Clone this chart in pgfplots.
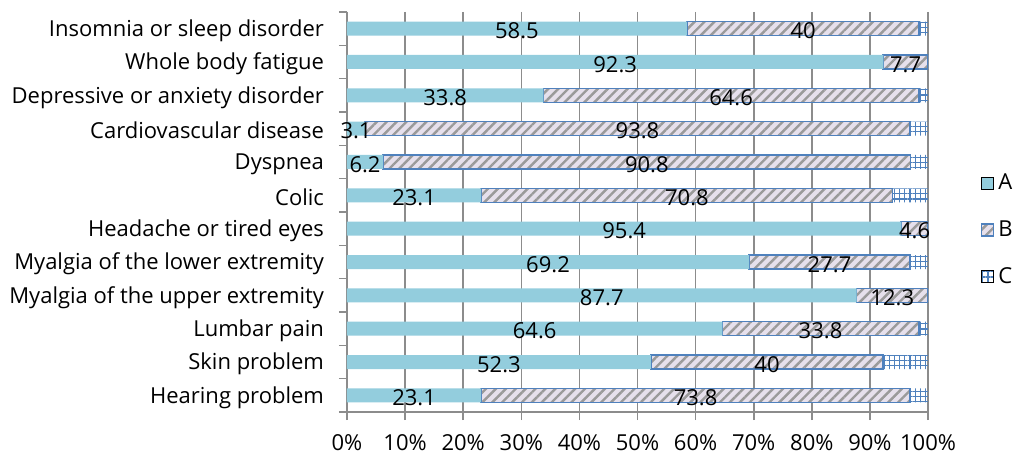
\documentclass[border=0pt]{standalone}
\usepackage{fontspec}
\setmainfont{Open Sans}
\usepackage{pgfplots}
\pgfplotsset{compat=1.18}
\usepackage{pgfplotstable}
\usetikzlibrary{patterns.meta}

\definecolor{barA}{HTML}{93CDDD}
\definecolor{barBfill}{HTML}{E6E0EC}
\definecolor{blueline}{HTML}{4F81BD}
\definecolor{hatchc}{HTML}{9A9A9A}
\definecolor{gridc}{HTML}{8C8C8C}

% A, B, C in percent; rows from top to bottom
\pgfplotstableread{
A B C
58.5 40 1.5
92.3 7.7 0
33.8 64.6 1.6
3.1 93.8 3.1
6.2 90.8 3.0
23.1 70.8 6.1
95.4 4.6 0
69.2 27.7 3.1
87.7 12.3 0
64.6 33.8 1.6
52.3 40 7.7
23.1 73.8 3.1
}\symptoms

\pgfplotsset{
  base/.style={
    scale only axis, width=290.5pt, height=200pt,
    xmin=0, xmax=100, ymin=-0.5, ymax=11.5, y dir=reverse,
  },
  sq legend/.style={legend image code/.code={\draw[##1] (0pt,-3pt) rectangle (6pt,3pt);}},
}

\begin{document}
\begin{tikzpicture}[font=\fontsize{11}{13}\selectfont]
\begin{axis}[base,
  xbar stacked, bar width=7pt,
  axis lines*=left, axis line style={gridc, line width=0.8pt},
  xtick={0,10,...,100}, xmajorgrids, grid style={gridc, line width=0.8pt},
  /pgf/number format/assume math mode=true,
  xticklabel={\pgfmathprintnumber{\tick}\%},
  xticklabel style={yshift=-3.5pt},
  ytick={-0.5,0.5,...,11.5}, yticklabels={},
  tick align=outside, major tick length=4pt,
  tick style={gridc, line width=0.8pt},
  extra y ticks={0,...,11},
  extra y tick labels={Insomnia or sleep disorder, Whole body fatigue,
    Depressive or anxiety disorder, Cardiovascular disease, Dyspnea, Colic,
    Headache or tired eyes, Myalgia of the lower extremity,
    Myalgia of the upper extremity, Lumbar pain, Skin problem, Hearing problem},
  extra y tick style={tick style={draw=none}, yticklabel style={xshift=-4pt, yshift=-1pt}},
  legend style={at={(1.08,0.455)}, anchor=west, draw=none, fill=none,
    row sep=10pt, legend cell align=left},
]
\addplot[fill=barA, draw=none, sq legend] table[x=A, y expr=\coordindex]{\symptoms};
\addplot[preaction={fill=barBfill}, pattern={Lines[angle=45,distance=3.5pt,line width=1.2pt]},
  pattern color=hatchc, draw=blueline, line width=0.8pt, sq legend]
  table[x=B, y expr=\coordindex]{\symptoms};
\addplot[pattern={Hatch[angle=0,distance=2.6pt,line width=0.6pt]}, pattern color=blueline,
  draw=none, sq legend] table[x=C, y expr=\coordindex]{\symptoms};
\legend{A,B,C}
\end{axis}
\begin{axis}[base, hide axis]
\addplot[draw=none, mark=none, nodes near coords, point meta=explicit symbolic,
  every node near coord/.append style={anchor=center, yshift=-1.2pt, text=black}]
  table[x expr=\thisrow{A}/2, y expr=\coordindex, meta=A]{\symptoms};
\addplot[draw=none, mark=none, nodes near coords, point meta=explicit symbolic,
  every node near coord/.append style={anchor=center, yshift=-1.2pt, text=black}]
  table[x expr=\thisrow{A}+\thisrow{B}/2, y expr=\coordindex, meta=B]{\symptoms};
\end{axis}
\pgfresetboundingbox
\path[use as bounding box] (-173.5pt,-23.5pt) rectangle (342pt,206pt);
\end{tikzpicture}
\end{document}
